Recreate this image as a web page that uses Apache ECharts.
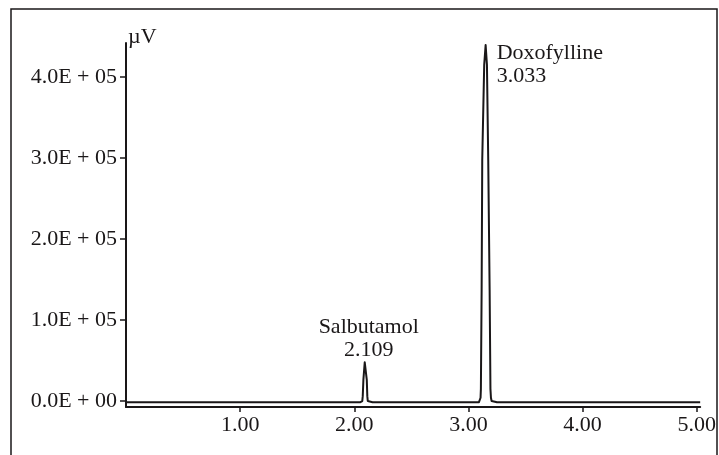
<!DOCTYPE html>
<html>
<head>
<meta charset="utf-8">
<script src="https://cdn.jsdelivr.net/npm/echarts@6/dist/echarts.min.js"></script>
<style>
  html, body { margin: 0; padding: 0; background: #fff; }
  #chartContainer { width: 719px; height: 455px; }
</style>
</head>
<body>
<div id="chartContainer"></div>
<script>
// Chromatogram trace (time in min, signal in µV)
const retentionTimes = [
    0.00, 2.050, 2.064, 2.070, 2.074, 2.0796, 2.0914, 2.1094, 2.114, 2.118, 2.126, 2.160,
    3.060, 3.092, 3.101, 3.106, 3.109, 3.1155, 3.1208, 3.138, 3.1505, 3.162, 3.1733,
    3.1856, 3.1926, 3.197, 3.203, 3.214, 3.250, 5.03
];
const signalUV = [
    -1600, -1600, -1400, 0, 6000, 26000, 47800, 26000, 6000, 0, -1400, -1600,
    -1600, -1400, 0, 4000, 15000, 137000, 297500, 415000, 439500, 415000, 297500,
    137000, 15000, 4000, 0, -1400, -1600, -1600
];

// Peak annotations
const peakNames = ['Salbutamol', 'Doxofylline'];
const peakLabels = ['2.109', '3.033'];
const peakTimes = [2.0914, 3.1505];
const peakHeights = [47800, 439500];

// Axis ticks
const xTicks = [1, 2, 3, 4, 5];
const yTicks = [0, 100000, 200000, 300000, 400000];

const ink = '#1a1718';
const serif = '"Liberation Serif", "Times New Roman", serif';

function formatSci(v) {
    const exp = v === 0 ? 0 : Math.floor(Math.log10(Math.abs(v)));
    const mant = (v / Math.pow(10, exp)).toFixed(1);
    return mant + 'E + ' + String(exp).padStart(2, '0');
}

const myChart = echarts.init(document.getElementById('chartContainer'));

const traceData = retentionTimes.map((t, i) => [t, signalUV[i]]);
const peakData = peakTimes.map((t, i) => ({
    value: [t, peakHeights[i]],
    name: peakNames[i],
    label: i === 0
        ? { position: 'top', distance: 1, offset: [4, 0], align: 'center' }
        : { position: [11, -3], align: 'left', verticalAlign: 'top' }
}));

const option = {
    animation: false,
    backgroundColor: '#fff',
    grid: { left: 126, top: 43, right: 18, bottom: 48 },
    graphic: [
        {
            type: 'rect',
            shape: { x: 11, y: 9, width: 706, height: 470 },
            style: { fill: 'none', stroke: ink, lineWidth: 1.5 },
            silent: true
        },
        {
            type: 'text',
            left: 128,
            top: 26,
            style: { text: 'µV', font: '22px ' + serif, fill: ink }
        }
    ],
    xAxis: {
        type: 'value',
        min: 0,
        max: 5.03,
        splitLine: { show: false },
        axisLine: { onZero: false, lineStyle: { color: ink, width: 2 } },
        axisTick: { length: 5, customValues: xTicks, lineStyle: { color: ink, width: 1.5 } },
        axisLabel: {
            customValues: xTicks,
            margin: 7,
            color: ink,
            fontFamily: serif,
            fontSize: 22,
            formatter: v => v.toFixed(2)
        }
    },
    yAxis: {
        type: 'value',
        min: -7400,
        max: 442000,
        splitLine: { show: false },
        axisLine: { show: true, lineStyle: { color: ink, width: 2 } },
        axisTick: { show: true, length: 6, customValues: yTicks, lineStyle: { color: ink, width: 1.5 } },
        axisLabel: {
            customValues: yTicks,
            margin: 9,
            color: ink,
            fontFamily: serif,
            fontSize: 22,
            formatter: v => formatSci(v)
        }
    },
    series: [
        {
            type: 'line',
            data: traceData,
            showSymbol: false,
            smooth: false,
            lineStyle: { color: ink, width: 2, join: 'round' },
            z: 3
        },
        {
            type: 'scatter',
            data: peakData,
            symbolSize: 0,
            silent: true,
            itemStyle: { opacity: 1 },
            label: {
                show: true,
                color: ink,
                fontFamily: serif,
                fontSize: 22,
                lineHeight: 23,
                formatter: p => p.name + '\n' + peakLabels[p.dataIndex]
            }
        }
    ]
};

myChart.setOption(option);
</script>
</body>
</html>
